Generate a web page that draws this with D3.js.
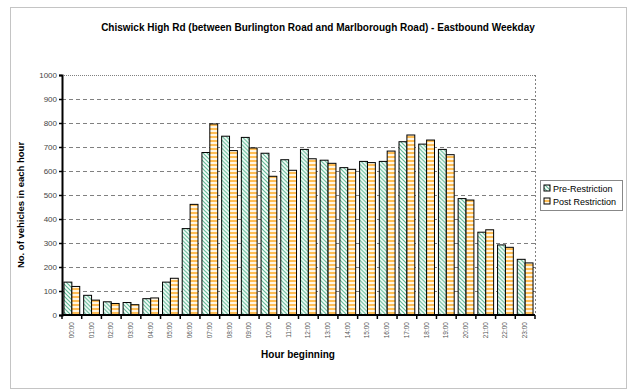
<!DOCTYPE html>
<html>
<head>
<meta charset="utf-8">
<script src="https://cdn.jsdelivr.net/npm/d3@7"></script>
<style>
  body { margin: 0; background: #fff; }
  svg { font-family: Arial, "Liberation Sans", sans-serif; }
</style>
</head>
<body>
<svg id="chart" width="630" height="390"></svg>
<script>
// Chiswick High Rd eastbound weekday counts

const hours = ['00:00','01:00','02:00','03:00','04:00','05:00','06:00','07:00',
  '08:00','09:00','10:00','11:00','12:00','13:00','14:00','15:00',
  '16:00','17:00','18:00','19:00','20:00','21:00','22:00','23:00'];

const preRestriction  = [137, 82, 55, 52, 68, 137, 360, 677, 745, 740, 674, 647,
  690, 645, 614, 640, 640, 722, 712, 690, 485, 345, 292, 232];
const postRestriction = [119, 62, 48, 43, 71, 153, 461, 796, 685, 696, 578, 603,
  651, 632, 607, 635, 683, 750, 729, 668, 479, 355, 282, 217];

const seriesNames = ['Pre-Restriction', 'Post Restriction'];
const yTicks = [0, 100, 200, 300, 400, 500, 600, 700, 800, 900, 1000];

const svg = d3.select('#chart');
const M = { left: 62, right: 535, top: 75, bottom: 315 };

// outer chart border
svg.append('rect')
  .attr('x', 10.5).attr('y', 7.5)
  .attr('width', 616).attr('height', 381)
  .attr('fill', 'none')
  .attr('stroke', '#888')
  .attr('stroke-width', 1)
  .attr('stroke-dasharray', '1,1');

// hatch patterns
const defs = svg.append('defs');
const pPre = defs.append('pattern')
  .attr('id', 'hatch-pre')
  .attr('patternUnits', 'userSpaceOnUse')
  .attr('width', 4).attr('height', 4);
pPre.append('rect').attr('width', 4).attr('height', 4).attr('fill', '#fff');
pPre.append('path')
  .attr('d', 'M-1,-1L5,5M-1,3L1,5M3,-1L5,1')
  .attr('stroke', '#5cba94')
  .attr('stroke-width', 1.2);

const pPost = defs.append('pattern')
  .attr('id', 'hatch-post')
  .attr('patternUnits', 'userSpaceOnUse')
  .attr('width', 3).attr('height', 4);
pPost.append('rect').attr('width', 3).attr('height', 4).attr('fill', '#fff6e4');
pPost.append('rect').attr('y', 0).attr('width', 3).attr('height', 2).attr('fill', '#ffbe55');

const x0 = d3.scaleBand()
  .domain(hours)
  .range([M.left, M.right])
  .paddingInner(0.2)
  .paddingOuter(0.1);

const x1 = d3.scaleBand()
  .domain(seriesNames)
  .range([0, x0.bandwidth()]);

const y = d3.scaleLinear()
  .domain([0, 1000])
  .range([M.bottom, M.top]);

// gridlines
svg.append('g')
  .selectAll('line')
  .data(yTicks.filter(t => t > 0))
  .join('line')
  .attr('x1', M.left).attr('x2', M.right)
  .attr('y1', d => Math.round(y(d)) + 0.5)
  .attr('y2', d => Math.round(y(d)) + 0.5)
  .attr('stroke', '#808080')
  .attr('stroke-dasharray', d => d === 1000 ? '1,1' : '4,3');

// plot area right border
svg.append('line')
  .attr('x1', M.right + 0.5).attr('x2', M.right + 0.5)
  .attr('y1', M.top).attr('y2', M.bottom)
  .attr('stroke', '#808080')
  .attr('stroke-dasharray', '2,2');

// bars
const groups = svg.append('g')
  .selectAll('g')
  .data(hours.map((h, i) => ({ h, vals: [preRestriction[i], postRestriction[i]] })))
  .join('g')
  .attr('transform', d => `translate(${x0(d.h)},0)`);

groups.selectAll('rect')
  .data(d => d.vals.map((v, k) => ({ k, v })))
  .join('rect')
  .attr('x', d => x1(seriesNames[d.k]))
  .attr('y', d => y(d.v))
  .attr('width', x1.bandwidth())
  .attr('height', d => y(0) - y(d.v))
  .attr('fill', d => d.k === 0 ? 'url(#hatch-pre)' : 'url(#hatch-post)')
  .attr('stroke', '#000')
  .attr('stroke-width', 1);

// y axis
const yAxis = svg.append('g')
  .attr('transform', `translate(${M.left},0)`)
  .call(d3.axisLeft(y).tickValues(yTicks).tickSize(3).tickFormat(d3.format('d')));
yAxis.select('.domain').attr('stroke', '#000').attr('stroke-width', 2);
yAxis.selectAll('.tick line').attr('stroke', '#000').attr('stroke-width', 1.5);
yAxis.selectAll('.tick text')
  .attr('font-size', 8)
  .attr('fill', '#444')
  .attr('x', -5);

// x axis: ticks on group boundaries
const bounds = hours.map((h, i) => M.left + i * (M.right - M.left) / hours.length).concat([M.right]);
svg.append('line')
  .attr('x1', M.left).attr('x2', M.right)
  .attr('y1', M.bottom).attr('y2', M.bottom)
  .attr('stroke', '#000').attr('stroke-width', 2);
svg.append('g')
  .selectAll('line')
  .data(bounds)
  .join('line')
  .attr('x1', d => d).attr('x2', d => d)
  .attr('y1', M.bottom).attr('y2', M.bottom + 4)
  .attr('stroke', '#000').attr('stroke-width', 1.5);

svg.append('g')
  .selectAll('text')
  .data(hours)
  .join('text')
  .attr('transform', d => `translate(${x0(d) + x0.bandwidth() / 2 + 2},${M.bottom + 7}) rotate(-90)`)
  .attr('text-anchor', 'end')
  .attr('font-size', 6.5)
  .attr('fill', '#555')
  .text(d => d);

// titles
svg.append('text')
  .attr('x', 318).attr('y', 31)
  .attr('text-anchor', 'middle')
  .attr('font-size', 10)
  .attr('font-weight', 'bold')
  .text('Chiswick High Rd (between Burlington Road and Marlborough Road) - Eastbound Weekday');

svg.append('text')
  .attr('x', 298).attr('y', 358)
  .attr('text-anchor', 'middle')
  .attr('font-size', 10)
  .attr('font-weight', 'bold')
  .text('Hour beginning');

svg.append('text')
  .attr('transform', 'translate(24,205) rotate(-90)')
  .attr('text-anchor', 'middle')
  .attr('font-size', 9.5)
  .attr('font-weight', 'bold')
  .text('No. of vehicles in each hour');

// legend
const lg = svg.append('g').attr('transform', 'translate(540,180)');
lg.append('rect')
  .attr('x', 0.5).attr('y', 0.5)
  .attr('width', 82).attr('height', 30)
  .attr('fill', '#fff')
  .attr('stroke', '#888');
seriesNames.forEach((name, i) => {
  lg.append('rect')
    .attr('x', 4).attr('y', 5 + i * 13)
    .attr('width', 6).attr('height', 6)
    .attr('fill', i === 0 ? 'url(#hatch-pre)' : 'url(#hatch-post)')
    .attr('stroke', '#000');
  lg.append('text')
    .attr('x', 13).attr('y', 11.5 + i * 13)
    .attr('font-size', 9)
    .text(name);
});
</script>
</body>
</html>
